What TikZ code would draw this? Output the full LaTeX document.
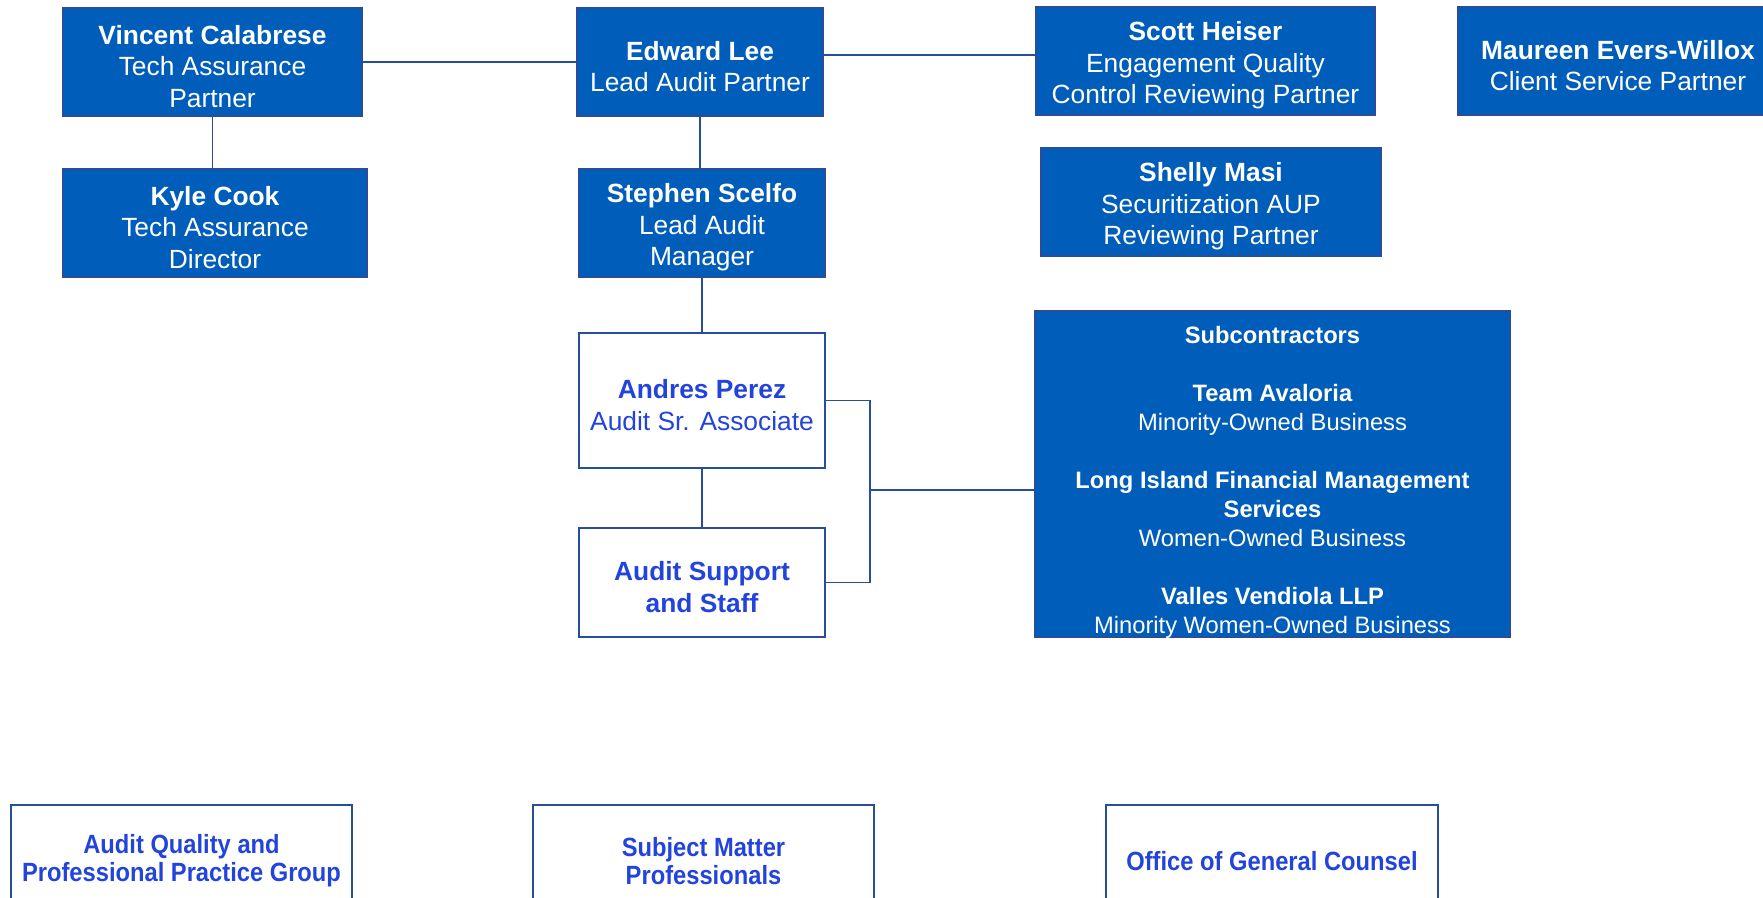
\documentclass[tikz,border=0pt]{standalone}
\usepackage{fontspec}
\setmainfont{Liberation Sans}
\newfontfamily\narrowfont{Liberation Sans}[FakeStretch=0.9]
\usepackage{tikz}

\definecolor{boxblue}{RGB}{0,93,185}
\definecolor{textblue}{RGB}{34,68,221}
\definecolor{lineblue}{RGB}{40,78,155}

\tikzset{
  bluebox/.style={draw=lineblue, line width=0.8pt, fill=boxblue, inner sep=0pt},
  whitebox/.style={draw=lineblue, line width=0.8pt, fill=white, inner sep=0pt},
  bluetext/.style={text=white, align=center, inner sep=0pt, yshift=-0.09cm,
    font=\fontsize{15}{18}\selectfont},
  whitetext/.style={bluetext, text=textblue},
  subtext/.style={text=white, align=center, inner sep=0pt, yshift=-0.16cm,
    font=\fontsize{13.5}{16.5}\selectfont},
  grouptext/.style={text=textblue, align=center, inner sep=0pt, yshift=-0.06cm,
    font=\narrowfont\bfseries\fontsize{15}{16}\selectfont},
  link/.style={draw=lineblue, line width=0.8pt}
}

\begin{document}
\begin{tikzpicture}[x=0.02cm, y=-0.02cm]
\useasboundingbox (0,0) rectangle (1763,897);
\clip (0,0) rectangle (1763,897);

% partners
\node[bluebox, minimum width=5.98cm, minimum height=2.16cm,
  label={[bluetext]center:{\textbf{Vincent Calabrese}\\Tech Assurance\\Partner}}]
  (vincent) at (212.5,62) {};
\node[bluebox, minimum width=6.08cm, minimum height=2.16cm,
  label={[bluetext]center:{\textbf{Kyle Cook}\\Tech Assurance\\Director}}]
  (kyle) at (215,223) {};
\node[bluebox, minimum width=4.92cm, minimum height=2.16cm,
  label={[bluetext]center:{\textbf{Edward Lee}\\Lead Audit Partner}}]
  (edward) at (700,62) {};
\node[bluebox, minimum width=4.92cm, minimum height=2.16cm,
  label={[bluetext]center:{\textbf{Stephen Scelfo}\\Lead Audit\\Manager}}]
  (stephen) at (702,223) {};
\node[bluebox, minimum width=6.78cm, minimum height=2.16cm,
  label={[bluetext]center:{\textbf{Scott Heiser}\\Engagement Quality\\Control Reviewing Partner}}]
  (scott) at (1205.5,61) {};
\node[bluebox, minimum width=6.80cm, minimum height=2.16cm,
  label={[bluetext]center:{\textbf{Shelly Masi}\\Securitization AUP\\Reviewing Partner}}]
  (shelly) at (1211,202) {};
\node[bluebox, minimum width=6.40cm, minimum height=2.16cm,
  label={[bluetext]center:{\textbf{Maureen Evers-Willox}\\Client Service Partner}}]
  (maureen) at (1618,61) {};

% team
\node[whitebox, minimum width=4.92cm, minimum height=2.70cm,
  label={[whitetext]center:{\textbf{Andres Perez}\\Audit Sr. Associate}}]
  (andres) at (702,400.5) {};
\node[whitebox, minimum width=4.92cm, minimum height=2.18cm,
  label={[whitetext]center:{\textbf{Audit Support}\\\textbf{and Staff}}}]
  (support) at (702,582.5) {};

% subcontractors
\node[bluebox, minimum width=9.50cm, minimum height=6.52cm,
  label={[subtext]center:{\textbf{Subcontractors}\\[16.5pt]
   \textbf{Team Avaloria}\\Minority-Owned Business\\[16.5pt]
   \textbf{Long Island Financial Management}\\\textbf{Services}\\Women-Owned Business\\[16.5pt]
   \textbf{Valles Vendiola LLP}\\Minority Women-Owned Business}}]
  (subs) at (1272.5,474) {};

% support groups
\node[whitebox, minimum width=6.82cm, minimum height=2.12cm,
  label={[grouptext]center:{Audit Quality and\\Professional Practice Group}}]
  (quality) at (181.5,858) {};
\node[whitebox, minimum width=6.82cm, minimum height=2.12cm,
  label={[grouptext]center:{Subject Matter\\Professionals}}]
  (matter) at (703.5,858) {};
\node[whitebox, minimum width=6.64cm, minimum height=2.12cm,
  label={[grouptext]center:{Office of General Counsel}}]
  (counsel) at (1272,858) {};

% connectors
\draw[link] (vincent.east) -- (edward.west);
\draw[link] ([yshift=0.14cm]edward.east) -- ([yshift=0.14cm]edward.east -| scott.west);
\draw[link] (vincent.south) -- (vincent.south |- kyle.north);
\draw[link] (edward.south) -- (edward.south |- stephen.north);
\draw[link] (stephen.south) -- (andres.north);
\draw[link] (andres.south) -- (support.north);
\coordinate (elbow) at (870,490);
\draw[link] (andres.east) -| (elbow) |- (support.east);
\draw[link] (elbow) -- (elbow -| subs.west);
\end{tikzpicture}
\end{document}
